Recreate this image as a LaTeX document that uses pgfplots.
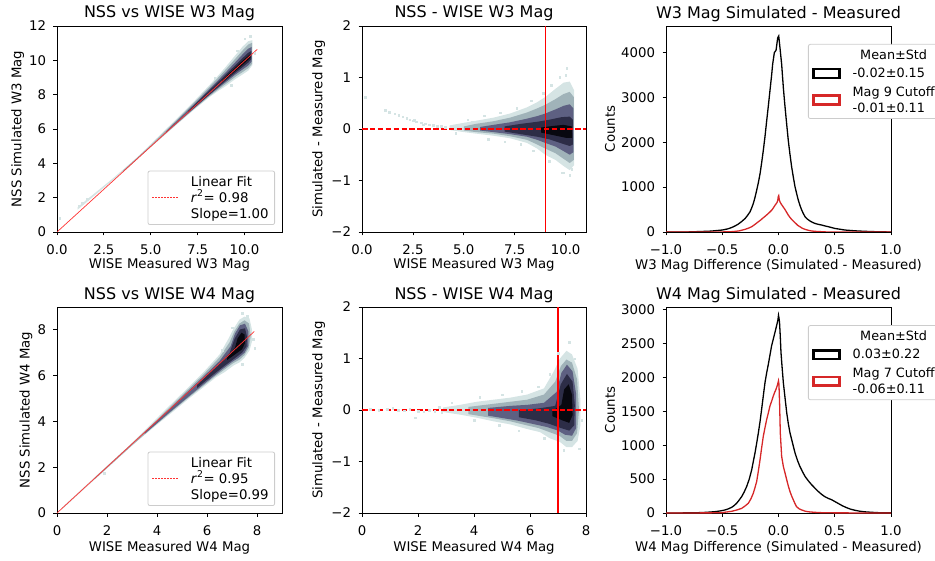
\documentclass[border=0pt]{standalone}
\usepackage{fontspec}
\setmainfont{DejaVu Sans}
\usepackage{pgfplots}
\pgfplotsset{compat=1.18}
\definecolor{cA}{HTML}{D5E4E4}
\definecolor{cB}{HTML}{A0B3B9}
\definecolor{cC}{HTML}{5E6082}
\definecolor{cD}{HTML}{2D2D47}
\definecolor{cE}{HTML}{08080F}
\definecolor{tabred}{HTML}{D62728}
\definecolor{frame}{HTML}{CCCCCC}
\newcommand{\tk}{\fontsize{13.3}{16}\selectfont}
\newcommand{\lgf}{\fontsize{12.8}{16}\selectfont}

\pgfplotsset{
  panel/.style={
    scale only axis, width=225pt, height=206pt, anchor=south west,
    axis line style={line width=0.8pt},
    tick style={line width=0.8pt, black},
    tick align=outside, major tick length=3.5pt,
    xtick pos=bottom, ytick pos=left,
    /pgf/number format/assume math mode=true,
    tick label style={font=\tk},
    xticklabel style={yshift=-5.5pt},
    yticklabel style={xshift=-4pt},
    label style={font=\tk},
    title style={font=\fontsize{16}{19}\selectfont, at={(axis description cs:0.5,1)}, anchor=base, yshift=2pt},
    legend style={font=\tk, draw=frame, line width=0.8pt, rounded corners=2pt, fill=white,
      cells={anchor=west, align=left}, column sep=11pt, inner xsep=4pt, inner ysep=3pt},
  },
  cloud/.style={fill=#1, draw=none, forget plot},
  dots/.style={only marks, mark=square*, mark size=0.8pt, color=#1, forget plot},
  strip/.style={fill=#1, draw=none},
  cutline/.style={color=red, mark=none, solid, line width=1.5pt, forget plot},
  zeroline/.style={color=red, mark=none, line width=1.2pt, dash pattern=on 5.5pt off 2.4pt, forget plot},
  rectleg/.style={legend image code/.code={\fill[##1, sharp corners, even odd rule] (0pt,-5pt) rectangle (27pt,5pt) (1.2pt,-3.8pt) rectangle (25.8pt,3.8pt);}},
  lineleg/.style={legend image code/.code={\foreach \i in {0,3,...,24} {\fill[##1, sharp corners] (\i pt,-0.45pt) rectangle ++(2pt,0.9pt);}}},
  histleg/.style={legend style={font=\lgf, row sep=3.4pt, column sep=10pt}},
}

\begin{document}
\begin{tikzpicture}[x=1pt,y=1pt]
\useasboundingbox (0,0) rectangle (935,-561);
\clip (0,0) rectangle (935,-561);

% ---------------- NSS vs WISE W3
\begin{axis}[panel, at={(57pt,-232pt)},
  title={NSS vs WISE W3 Mag},
  xlabel={WISE Measured W3 Mag}, ylabel={NSS Simulated W3 Mag},
  xlabel style={at={(axis description cs:0.5,-0.178)}, anchor=base},
  ylabel style={at={(axis description cs:-0.158,0.5)}, anchor=base},
  xmin=0, xmax=12, ymin=0, ymax=12,
  xtick={0,2.5,5,7.5,10}, xticklabels={\textrm{0.0},\textrm{2.5},\textrm{5.0},\textrm{7.5},\textrm{10.0}},
  ytick={0,2,4,6,8,10,12}, yticklabels={\textrm{0},\textrm{2},\textrm{4},\textrm{6},\textrm{8},\textrm{10},\textrm{12}},
  lineleg,
  legend style={at={(axis description cs:0.969,0.034)}, anchor=south east},
]
\addplot[cloud=cA] coordinates {(1.1,1.45) (2,2.25) (3,3.14) (4.3,4.37) (5.0,5.12) (5.6,5.76) (6.45,6.67) (7.27,7.57) (8.1,8.52) (8.6,9.12) (9.0,9.62) (9.5,10.28) (9.9,10.8) (10.2,11.12) (10.42,11.17) (10.42,9.72) (10.2,9.4) (9.9,9.18) (9.5,8.9) (9.0,8.5) (8.6,8.22) (8.1,7.83) (7.27,7.09) (6.45,6.32) (5.6,5.51) (5.0,4.94) (4.3,4.28) (3,3.04) (2,2.12) (1.1,1.3)} -- cycle;
\addplot[cloud=cB] coordinates {(3.5,3.56) (5.0,5.05) (5.6,5.7) (6.45,6.6) (7.27,7.49) (8.1,8.42) (8.6,9.0) (9.0,9.47) (9.5,10.08) (9.9,10.58) (10.2,10.92) (10.4,11.02) (10.4,9.8) (10.2,9.54) (9.9,9.32) (9.5,9.03) (9.0,8.62) (8.6,8.3) (8.1,7.89) (7.27,7.13) (6.45,6.36) (5.6,5.54) (5.0,4.97) (3.5,3.47)} -- cycle;
\addplot[cloud=cC] coordinates {(5.8,5.84) (6.45,6.53) (7.27,7.4) (8.1,8.3) (8.6,8.85) (9.0,9.3) (9.5,9.88) (9.9,10.35) (10.2,10.68) (10.38,10.78) (10.38,9.93) (10.2,9.7) (9.9,9.47) (9.5,9.16) (9.0,8.73) (8.6,8.39) (8.1,7.95) (7.27,7.17) (6.45,6.39) (5.8,5.77)} -- cycle;
\addplot[cloud=cD] coordinates {(7.0,7.05) (7.8,7.9) (8.6,8.74) (9.2,9.38) (9.8,10.03) (10.2,10.44) (10.36,10.54) (10.36,10.06) (10.2,9.87) (9.8,9.52) (9.2,9.0) (8.6,8.45) (7.8,7.7) (7.0,6.95)} -- cycle;
\addplot[cloud=cE] coordinates {(8.8,8.83) (9.4,9.46) (9.9,9.98) (10.3,10.35) (10.32,10.15) (10.0,9.83) (9.4,9.28) (8.8,8.73)} -- cycle;
\addplot[dots=cA] coordinates {(0.15,0.8) (1.15,1.51) (1.35,1.68) (1.6,1.9) (10.3,11.4) (10.55,10.4) (9.6,10.55) (8.4,8.95) (9.3,8.55) (10.0,11.25)};
\addplot[strip=red!80] coordinates {(-0.0126,0.0151) (10.6674,10.6551) (10.6926,10.6249) (0.0126,-0.0151)} -- cycle;
\addlegendentry{Linear Fit\\\textit{r}\textsuperscript{2}= 0.98\\Slope=1.00}
\end{axis}

% ---------------- NSS - WISE W3
\begin{axis}[panel, at={(362pt,-232pt)}, width=224pt,
  title={NSS - WISE W3 Mag},
  xlabel={WISE Measured W3 Mag}, ylabel={Simulated - Measured Mag},
  xlabel style={at={(axis description cs:0.5,-0.178)}, anchor=base},
  ylabel style={at={(axis description cs:-0.177,0.5)}, anchor=base},
  xmin=0, xmax=11, ymin=-2, ymax=2,
  xtick={0,2.5,5,7.5,10}, xticklabels={\textrm{0.0},\textrm{2.5},\textrm{5.0},\textrm{7.5},\textrm{10.0}},
  ytick={-2,-1,0,1,2}, yticklabels={\textrm{−2},\textrm{−1},\textrm{0},\textrm{1},\textrm{2}},
]
\addplot[cloud=cA] coordinates {(4.3,0.07) (5.0,0.12) (5.6,0.16) (6.45,0.22) (7.27,0.3) (8.1,0.42) (8.6,0.52) (9.0,0.62) (9.5,0.78) (9.9,0.9) (10.2,0.92) (10.42,0.75) (10.42,-0.7) (10.2,-0.8) (9.9,-0.72) (9.5,-0.6) (9.0,-0.5) (8.6,-0.38) (8.1,-0.27) (7.27,-0.18) (6.45,-0.13) (5.6,-0.09) (5.0,-0.06) (4.3,-0.02)} -- cycle;
\addplot[cloud=cB] coordinates {(5.0,0.05) (5.6,0.1) (6.45,0.15) (7.27,0.22) (8.1,0.32) (8.6,0.4) (9.0,0.47) (9.5,0.58) (9.9,0.68) (10.2,0.72) (10.4,0.62) (10.4,-0.6) (10.2,-0.66) (9.9,-0.58) (9.5,-0.47) (9.0,-0.38) (8.6,-0.3) (8.1,-0.21) (7.27,-0.14) (6.45,-0.09) (5.6,-0.06) (5.0,-0.03)} -- cycle;
\addplot[cloud=cC] coordinates {(5.8,0.04) (6.45,0.08) (7.27,0.13) (8.1,0.2) (8.6,0.25) (9.0,0.3) (9.5,0.38) (9.9,0.45) (10.2,0.48) (10.38,0.4) (10.38,-0.45) (10.2,-0.5) (9.9,-0.43) (9.5,-0.34) (9.0,-0.27) (8.6,-0.21) (8.1,-0.15) (7.27,-0.1) (6.45,-0.06) (5.8,-0.03)} -- cycle;
\addplot[cloud=cD] coordinates {(7.0,0.05) (7.8,0.1) (8.6,0.14) (9.2,0.18) (9.8,0.23) (10.2,0.24) (10.36,0.18) (10.36,-0.3) (10.2,-0.33) (9.8,-0.28) (9.2,-0.2) (8.6,-0.15) (7.8,-0.1) (7.0,-0.05)} -- cycle;
\addplot[cloud=cE] coordinates {(8.8,0.03) (9.4,0.06) (9.9,0.08) (10.3,0.05) (10.32,-0.17) (10.0,-0.17) (9.4,-0.12) (8.8,-0.07)} -- cycle;
\addplot[dots=cA] coordinates {(0.15,0.62) (1.15,0.36) (1.35,0.33) (1.6,0.3) (1.8,0.27) (2.0,0.24) (2.2,0.21) (2.35,0.18) (2.5,0.16) (2.65,0.14) (2.9,0.12) (3.1,0.1) (3.3,0.08) (3.5,0.07) (3.7,0.06) (3.9,0.05) (4.1,0.04) (2.55,0.18) (3.0,0.08) (10.05,1.18) (10.3,-0.78) (9.9,-0.85) (5.2,0.18) (6.0,0.26) (6.8,0.32) (7.6,0.4) (8.3,0.55) (8.9,0.7) (9.3,0.85) (9.7,1.0) (10.0,1.05) (6.2,-0.2) (7.0,-0.25) (7.8,-0.3) (8.4,-0.42) (9.2,-0.62) (9.8,-0.85) (10.2,-0.9) (4.6,-0.08) (5.4,0.14)};
\addplot[zeroline] coordinates {(0,0) (11,0)};
\addplot[cutline] coordinates {(9,-2) (9,2)};
\end{axis}

% ---------------- W3 histogram
\begin{axis}[panel, at={(666pt,-232pt)},
  title={W3 Mag Simulated - Measured},
  xlabel={W3 Mag Difference (Simulated - Measured)}, ylabel={Counts},
  xlabel style={at={(axis description cs:0.5,-0.18)}, anchor=base},
  ylabel style={at={(axis description cs:-0.227,0.5)}, anchor=base},
  xmin=-1, xmax=1, ymin=0, ymax=4593,
  xtick={-1,-0.5,0,0.5,1}, xticklabels={\textrm{−1.0},\textrm{−0.5},\textrm{0.0},\textrm{0.5},\textrm{1.0}},
  ytick={0,1000,2000,3000,4000}, yticklabels={\textrm{0},\textrm{1000},\textrm{2000},\textrm{3000},\textrm{4000}},
  rectleg, histleg,
  legend style={at={(axis description cs:0.631,0.913)}, anchor=north west},
]
\addlegendimage{empty legend}
\addlegendentry{\makebox[82pt][c]{Mean±Std}}
\addplot[black, line width=1.3pt] coordinates {(-1.0,0) (-0.8,2) (-0.7,10) (-0.6,20) (-0.5,44) (-0.45,70) (-0.416,100) (-0.386,135) (-0.357,177) (-0.327,235) (-0.297,300) (-0.275,370) (-0.253,450) (-0.238,540) (-0.224,635) (-0.209,770) (-0.194,930) (-0.179,1100) (-0.164,1300) (-0.15,1540) (-0.135,1820) (-0.12,2130) (-0.105,2480) (-0.09,2820) (-0.076,3150) (-0.061,3500) (-0.052,3740) (-0.037,4000) (-0.022,4050) (-0.007,4330) (0.002,4370) (0.013,4110) (0.028,3740) (0.043,3220) (0.054,2900) (0.064,2630) (0.076,2320) (0.087,2040) (0.102,1730) (0.117,1450) (0.132,1220) (0.147,1005) (0.162,850) (0.176,710) (0.191,590) (0.206,490) (0.221,410) (0.236,340) (0.258,285) (0.28,245) (0.302,215) (0.325,190) (0.355,170) (0.384,155) (0.413,135) (0.443,118) (0.473,98) (0.5,80) (0.55,60) (0.59,44) (0.65,32) (0.71,22) (0.78,14) (0.86,7) (0.93,3) (1.0,1)};
\addlegendentry{-0.02±0.15}
\addplot[tabred, line width=1.3pt] coordinates {(-1,0) (-0.6,0) (-0.45,3) (-0.4,10) (-0.35,25) (-0.297,59) (-0.268,85) (-0.238,118) (-0.209,170) (-0.179,229) (-0.157,270) (-0.135,318) (-0.112,365) (-0.09,414) (-0.075,450) (-0.06,488) (-0.045,540) (-0.03,600) (-0.015,650) (-0.007,700) (-0.002,790) (0.002,810) (0.007,720) (0.013,672) (0.025,620) (0.036,580) (0.047,540) (0.058,500) (0.072,440) (0.087,377) (0.102,325) (0.117,280) (0.135,235) (0.153,192) (0.17,150) (0.19,118) (0.21,85) (0.236,59) (0.265,38) (0.295,22) (0.34,12) (0.384,7) (0.42,2) (0.5,0) (1,0)};
\addlegendentry{Mag 9 Cutoff\\-0.01±0.11}
\end{axis}

% ---------------- NSS vs WISE W4
\begin{axis}[panel, at={(57pt,-513pt)},
  title={NSS vs WISE W4 Mag},
  xlabel={WISE Measured W4 Mag}, ylabel={NSS Simulated W4 Mag},
  xlabel style={at={(axis description cs:0.5,-0.186)}, anchor=base},
  ylabel style={at={(axis description cs:-0.122,0.5)}, anchor=base},
  xmin=0, xmax=9, ymin=0, ymax=9,
  xtick={0,2,4,6,8}, xticklabels={\textrm{0},\textrm{2},\textrm{4},\textrm{6},\textrm{8}},
  ytick={0,2,4,6,8}, yticklabels={\textrm{0},\textrm{2},\textrm{4},\textrm{6},\textrm{8}},
  lineleg,
  legend style={at={(axis description cs:0.969,0.034)}, anchor=south east},
]
\addplot[cloud=cA] coordinates {(0.2,0.24) (1,1.05) (2,2.06) (2.9,2.95) (3.5,3.6) (4.1,4.26) (4.7,4.9) (5.3,5.54) (5.9,6.2) (6.5,6.92) (6.85,7.6) (7.07,8.07) (7.3,8.45) (7.5,8.58) (7.7,8.5) (7.8,8.0) (7.8,7.5) (7.7,7.1) (7.5,6.78) (7.3,6.58) (7.07,6.45) (6.71,6.16) (6.36,5.93) (5.9,5.53) (5.3,5.02) (4.7,4.48) (4.1,3.95) (3.5,3.41) (2.9,2.86) (2,1.95) (1,0.96) (0.2,0.16)} -- cycle;
\addplot[cloud=cB] coordinates {(1.5,1.53) (3,3.05) (3.8,3.86) (4.7,4.82) (5.3,5.46) (5.9,6.1) (6.5,6.8) (6.9,7.45) (7.1,7.95) (7.3,8.28) (7.5,8.42) (7.68,8.28) (7.75,7.75) (7.68,7.23) (7.5,6.9) (7.3,6.7) (7.05,6.55) (6.7,6.27) (6.3,5.95) (5.9,5.6) (5.3,5.08) (4.7,4.54) (3.8,3.72) (3,2.95) (1.5,1.47)} -- cycle;
\addplot[cloud=cC] coordinates {(3.5,3.53) (4.5,4.54) (5.3,5.38) (5.9,6.0) (6.5,6.64) (6.95,7.3) (7.12,7.84) (7.32,8.2) (7.52,8.27) (7.65,7.95) (7.65,7.3) (7.5,7.0) (7.25,6.77) (7.0,6.6) (6.6,6.27) (6.1,5.83) (5.5,5.3) (4.5,4.39) (3.5,3.45)} -- cycle;
\addplot[cloud=cD] coordinates {(5.6,5.6) (6.3,6.33) (6.9,6.98) (7.1,7.6) (7.32,8.02) (7.52,8.07) (7.6,7.7) (7.58,7.28) (7.4,7.0) (7.1,6.75) (6.7,6.43) (6.2,6.0) (5.6,5.46)} -- cycle;
\addplot[cloud=cE] coordinates {(6.8,6.78) (7.12,7.22) (7.22,7.62) (7.38,7.88) (7.5,7.8) (7.52,7.42) (7.4,7.15) (7.15,6.95) (6.8,6.68)} -- cycle;
\addplot[dots=cA] coordinates {(7.4,8.72) (7.85,7.6) (1.9,1.75) (7.6,8.6) (7.9,7.2) (7.0,8.1) (6.6,7.1) (7.4,6.5)};
\addplot[strip=red!80] coordinates {(-0.0095,0.0113) (7.8805,7.9413) (7.8995,7.9187) (0.0095,-0.0113)} -- cycle;
\addlegendentry{Linear Fit\\\textit{r}\textsuperscript{2}= 0.95\\Slope=0.99}
\end{axis}

% ---------------- NSS - WISE W4
\begin{axis}[panel, at={(362pt,-513pt)}, width=224pt,
  title={NSS - WISE W4 Mag},
  xlabel={WISE Measured W4 Mag}, ylabel={Simulated - Measured Mag},
  xlabel style={at={(axis description cs:0.5,-0.186)}, anchor=base},
  ylabel style={at={(axis description cs:-0.177,0.5)}, anchor=base},
  xmin=0, xmax=8, ymin=-2, ymax=2,
  xtick={0,2,4,6,8}, xticklabels={\textrm{0},\textrm{2},\textrm{4},\textrm{6},\textrm{8}},
  ytick={-2,-1,0,1,2}, yticklabels={\textrm{−2},\textrm{−1},\textrm{0},\textrm{1},\textrm{2}},
]
\addplot[cloud=cA] coordinates {(2.9,0.05) (3.5,0.1) (4.1,0.16) (4.7,0.2) (5.3,0.24) (5.9,0.3) (6.5,0.42) (6.85,0.75) (7.07,1.0) (7.3,1.15) (7.5,1.08) (7.7,0.8) (7.8,0.2) (7.8,-0.3) (7.7,-0.6) (7.5,-0.72) (7.3,-0.72) (7.07,-0.62) (6.71,-0.55) (6.36,-0.43) (5.9,-0.37) (5.3,-0.28) (4.7,-0.22) (4.1,-0.15) (3.5,-0.09) (2.9,-0.04)} -- cycle;
\addplot[cloud=cB] coordinates {(3.8,0.06) (4.7,0.12) (5.3,0.16) (5.9,0.2) (6.5,0.3) (6.9,0.55) (7.1,0.85) (7.3,0.98) (7.5,0.92) (7.68,0.6) (7.75,0) (7.68,-0.45) (7.5,-0.6) (7.3,-0.6) (7.05,-0.5) (6.7,-0.43) (6.3,-0.35) (5.9,-0.3) (5.3,-0.22) (4.7,-0.16) (3.8,-0.08)} -- cycle;
\addplot[cloud=cC] coordinates {(4.5,0.04) (5.3,0.08) (5.9,0.1) (6.5,0.14) (6.95,0.35) (7.12,0.72) (7.32,0.88) (7.52,0.75) (7.65,0.3) (7.65,-0.35) (7.5,-0.5) (7.25,-0.48) (7.0,-0.4) (6.6,-0.33) (6.1,-0.27) (5.5,-0.2) (4.5,-0.11)} -- cycle;
\addplot[cloud=cD] coordinates {(5.6,0.0) (6.3,0.03) (6.9,0.08) (7.1,0.5) (7.32,0.7) (7.52,0.55) (7.6,0.1) (7.58,-0.3) (7.4,-0.4) (7.1,-0.35) (6.7,-0.27) (6.2,-0.2) (5.6,-0.14)} -- cycle;
\addplot[cloud=cE] coordinates {(6.8,-0.02) (7.12,0.1) (7.22,0.4) (7.38,0.5) (7.5,0.3) (7.52,-0.1) (7.4,-0.25) (7.15,-0.2) (6.8,-0.12)} -- cycle;
\addplot[dots=cA] coordinates {(0.3,0.01) (0.6,0.0) (0.9,0.02) (1.1,0.03) (1.3,0.0) (1.5,-0.01) (1.7,0.01) (1.9,-0.15) (2.0,-0.02) (2.2,-0.03) (2.4,0.0) (2.6,-0.02) (2.75,0.05) (2.85,-0.04) (7.4,1.32) (3.2,0.14) (4.2,0.25) (5.0,0.3) (5.7,0.36) (6.3,0.45) (6.7,0.7) (7.0,1.1) (7.6,1.0) (7.85,-0.2) (7.75,-0.75) (7.2,-0.78) (6.5,-0.55) (5.6,-0.4) (4.9,-0.3) (4.0,-0.2)};
\addplot[zeroline] coordinates {(0,0) (8,0)};
\addplot[cutline] coordinates {(7,-2) (7,2)};
\end{axis}

% ---------------- W4 histogram
\begin{axis}[panel, at={(666pt,-513pt)},
  title={W4 Mag Simulated - Measured},
  xlabel={W4 Mag Difference (Simulated - Measured)}, ylabel={Counts},
  xlabel style={at={(axis description cs:0.5,-0.186)}, anchor=base},
  ylabel style={at={(axis description cs:-0.227,0.5)}, anchor=base},
  xmin=-1, xmax=1, ymin=0, ymax=3040,
  xtick={-1,-0.5,0,0.5,1}, xticklabels={\textrm{−1.0},\textrm{−0.5},\textrm{0.0},\textrm{0.5},\textrm{1.0}},
  ytick={0,500,1000,1500,2000,2500,3000}, yticklabels={\textrm{0},\textrm{500},\textrm{1000},\textrm{1500},\textrm{2000},\textrm{2500},\textrm{3000}},
  rectleg, histleg,
  legend style={at={(axis description cs:0.631,0.912)}, anchor=north west},
]
\addlegendimage{empty legend}
\addlegendentry{\makebox[82pt][c]{Mean±Std}}
\addplot[black, line width=1.3pt] coordinates {(-1,0) (-0.8,2) (-0.71,5) (-0.64,10) (-0.564,20) (-0.52,30) (-0.475,45) (-0.445,62) (-0.416,84) (-0.394,110) (-0.372,144) (-0.35,190) (-0.327,243) (-0.305,310) (-0.283,391) (-0.26,500) (-0.238,639) (-0.224,760) (-0.209,886) (-0.194,1030) (-0.179,1183) (-0.164,1350) (-0.15,1530) (-0.135,1730) (-0.12,1925) (-0.105,2070) (-0.09,2198) (-0.076,2330) (-0.061,2470) (-0.046,2570) (-0.031,2668) (-0.022,2730) (-0.013,2792) (-0.005,2850) (0.0,2916) (0.004,2880) (0.009,2817) (0.016,2600) (0.022,2371) (0.032,2150) (0.043,1925) (0.058,1700) (0.073,1480) (0.087,1320) (0.102,1183) (0.125,1030) (0.147,886) (0.168,780) (0.19,688) (0.213,610) (0.236,540) (0.265,475) (0.295,416) (0.325,365) (0.354,317) (0.383,275) (0.413,240) (0.443,215) (0.473,195) (0.5,170) (0.532,140) (0.57,105) (0.606,78) (0.64,57) (0.68,40) (0.72,27) (0.769,17) (0.83,10) (0.887,5) (0.95,3) (1.0,2)};
\addlegendentry{0.03±0.22}
\addplot[tabred, line width=1.3pt] coordinates {(-1,0) (-0.6,2) (-0.5,6) (-0.416,25) (-0.37,45) (-0.327,69) (-0.3,100) (-0.268,144) (-0.245,210) (-0.224,292) (-0.209,375) (-0.194,465) (-0.179,620) (-0.164,787) (-0.15,960) (-0.135,1134) (-0.12,1260) (-0.105,1381) (-0.09,1480) (-0.076,1579) (-0.061,1650) (-0.046,1728) (-0.034,1780) (-0.022,1827) (-0.011,1880) (-0.003,1930) (0.0,1950) (0.004,1900) (0.01,1600) (0.016,1180) (0.028,836) (0.043,688) (0.058,590) (0.073,490) (0.087,400) (0.102,317) (0.117,250) (0.132,193) (0.146,140) (0.16,94) (0.183,62) (0.206,45) (0.235,28) (0.265,18) (0.32,10) (0.38,5) (0.5,2) (1,0)};
\addlegendentry{Mag 7 Cutoff\\-0.06±0.11}
\end{axis}
\end{tikzpicture}
\end{document}
